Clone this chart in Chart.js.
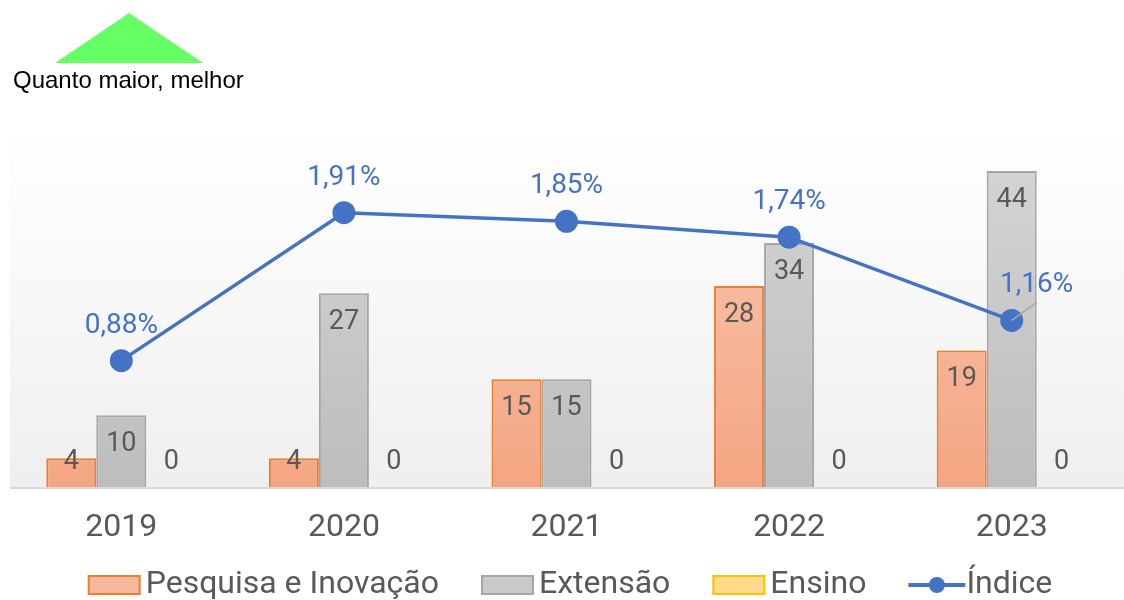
<!DOCTYPE html>
<html lang="pt">
<head>
<meta charset="utf-8">
<script src="https://cdn.jsdelivr.net/npm/chart.js@4.4.1/dist/chart.umd.min.js"></script>
<style>
  html, body { margin: 0; padding: 0; background: #fff; }
  #wrap { width: 1124px; height: 600px; }
</style>
</head>
<body>
<div id="wrap"><canvas id="chart" width="1124" height="600"></canvas></div>
<script>
const years = ['2019', '2020', '2021', '2022', '2023'];
const pesquisa = [4, 4, 15, 28, 19];
const extensao = [10, 27, 15, 34, 44];
const ensino = [0, 0, 0, 0, 0];
const indice = [0.88, 1.91, 1.85, 1.74, 1.16];

const FONT = 'Roboto, "Liberation Sans", sans-serif';
const TEXT_GREY = '#595959';
const BLUE = '#4472C4';

// shift of the last percent label (it sits beside the point, with a leader line)
const pctShiftX = [0, 0, 0, 0, 25];

function vGradient(chart, top, bottom) {
    const area = chart.chartArea;
    if (!area) return bottom;
    const g = chart.ctx.createLinearGradient(0, area.top, 0, area.bottom);
    g.addColorStop(0, top);
    g.addColorStop(1, bottom);
    return g;
}

const backgroundPlugin = {
    id: 'plotBackground',
    beforeDraw(chart) {
        const { ctx, chartArea } = chart;
        ctx.save();
        const g = ctx.createLinearGradient(0, chartArea.top, 0, chartArea.bottom);
        g.addColorStop(0, '#ffffff');
        g.addColorStop(1, '#efefef');
        ctx.fillStyle = g;
        ctx.fillRect(chartArea.left, chartArea.top, chart.width - chartArea.left, chartArea.bottom - chartArea.top);

        // green triangle + note
        ctx.fillStyle = '#66ff66';
        ctx.beginPath();
        ctx.moveTo(55, 63);
        ctx.lineTo(129, 13);
        ctx.lineTo(203, 63);
        ctx.closePath();
        ctx.fill();
        ctx.fillStyle = '#000';
        ctx.font = '24px "Liberation Sans", Arial, sans-serif';
        ctx.textBaseline = 'alphabetic';
        ctx.fillText('Quanto maior, melhor', 13, 88);
        ctx.restore();
    },
    afterDatasetsDraw(chart) {
        const { ctx, chartArea } = chart;
        ctx.save();
        ctx.strokeStyle = '#d9d9d9';
        ctx.lineWidth = 2;
        ctx.beginPath();
        ctx.moveTo(chartArea.left, chartArea.bottom + 1);
        ctx.lineTo(chart.width, chartArea.bottom + 1);
        ctx.stroke();
        ctx.restore();
    }
};

const labelPlugin = {
    id: 'valueLabels',
    afterDatasetsDraw(chart) {
        const ctx = chart.ctx;
        const base = chart.scales.y.getPixelForValue(0);
        ctx.save();
        ctx.textAlign = 'center';
        ctx.textBaseline = 'middle';
        ctx.font = '27px ' + FONT;
        ctx.fillStyle = TEXT_GREY;
        [0, 1, 2].forEach(di => {
            chart.getDatasetMeta(di).data.forEach((bar, i) => {
                const y = Math.min(bar.y + 29, base - 25);
                ctx.fillText(String(chart.data.datasets[di].data[i]), bar.x, y);
            });
        });

        ctx.font = '28px ' + FONT;
        chart.getDatasetMeta(3).data.forEach((pt, i) => {
            const dx = pctShiftX[i];
            const txt = indice[i].toFixed(2).replace('.', ',') + '%';
            if (dx) {
                ctx.strokeStyle = '#a6a6a6';
                ctx.lineWidth = 1.5;
                ctx.beginPath();
                ctx.moveTo(pt.x, pt.y);
                ctx.lineTo(pt.x + dx, pt.y - 18);
                ctx.stroke();
            }
            ctx.fillStyle = BLUE;
            ctx.fillText(txt, pt.x + dx, pt.y - 35);
        });
        ctx.restore();
    }
};

const legendItems = [
    { text: 'Pesquisa e Inovação', fill: '#f7b89b', stroke: '#ed7d31' },
    { text: 'Extensão', fill: '#c9c9c9', stroke: '#a5a5a5' },
    { text: 'Ensino', fill: '#ffd98c', stroke: '#ffc000' },
    { text: 'Índice', line: BLUE }
];

const legendPlugin = {
    id: 'bottomLegend',
    afterDraw(chart) {
        const ctx = chart.ctx;
        ctx.save();
        ctx.font = '32px ' + FONT;
        ctx.textBaseline = 'middle';
        const boxW = 53, gapText = 5, gapItem = 42, cy = 585;
        let total = 0;
        legendItems.forEach((it, k) => {
            total += boxW + gapText + ctx.measureText(it.text).width + (k ? gapItem : 0);
        });
        let x = 570 - total / 2;
        legendItems.forEach(it => {
            if (it.line) {
                ctx.strokeStyle = it.line;
                ctx.lineWidth = 4;
                ctx.beginPath();
                ctx.moveTo(x, cy);
                ctx.lineTo(x + boxW + 4, cy);
                ctx.stroke();
                ctx.fillStyle = it.line;
                ctx.beginPath();
                ctx.arc(x + (boxW + 4) / 2, cy, 8, 0, Math.PI * 2);
                ctx.fill();
            } else {
                ctx.fillStyle = it.fill;
                ctx.fillRect(x + 1, cy - 9, boxW - 2, 18);
                ctx.strokeStyle = it.stroke;
                ctx.lineWidth = 2;
                ctx.strokeRect(x + 1, cy - 9, boxW - 2, 18);
            }
            x += boxW + gapText;
            ctx.fillStyle = TEXT_GREY;
            ctx.fillText(it.text, x, cy);
            x += ctx.measureText(it.text).width + gapItem;
        });
        ctx.restore();
    }
};

new Chart(document.getElementById('chart'), {
    type: 'bar',
    data: {
        labels: years,
        datasets: [
            {
                label: 'Pesquisa e Inovação',
                data: pesquisa,
                backgroundColor: c => vGradient(c.chart, '#f9cbb5', '#f4a582'),
                borderColor: '#ed7d31',
                borderWidth: 2,
                yAxisID: 'y',
                order: 2
            },
            {
                label: 'Extensão',
                data: extensao,
                backgroundColor: c => vGradient(c.chart, '#d6d6d6', '#bdbdbd'),
                borderColor: '#a5a5a5',
                borderWidth: 2,
                yAxisID: 'y',
                order: 2
            },
            {
                label: 'Ensino',
                data: ensino,
                backgroundColor: '#ffd98c',
                borderColor: '#ffc000',
                borderWidth: 2,
                yAxisID: 'y',
                order: 2
            },
            {
                type: 'line',
                label: 'Índice',
                data: indice,
                borderColor: BLUE,
                backgroundColor: BLUE,
                borderWidth: 3.5,
                pointRadius: 11.5,
                pointBackgroundColor: BLUE,
                pointBorderWidth: 0,
                tension: 0,
                yAxisID: 'y1',
                order: 0
            }
        ]
    },
    options: {
        responsive: false,
        animation: false,
        devicePixelRatio: 1,
        categoryPercentage: 0.674,
        barPercentage: 1.0,
        layout: { autoPadding: false, padding: { top: 128, left: 10, right: 1, bottom: 0 } },
        plugins: {
            legend: { display: false },
            tooltip: { enabled: false }
        },
        scales: {
            x: {
                grid: { display: false, drawTicks: false },
                border: { display: false },
                ticks: { color: TEXT_GREY, font: { size: 32, family: FONT }, padding: 22 },
                afterFit: s => { s.height = 113; }
            },
            y: { display: false, min: 0, max: 50 },
            y1: { display: false, min: 0, max: 2.5 }
        }
    },
    plugins: [backgroundPlugin, labelPlugin, legendPlugin]
});
</script>
</body>
</html>
